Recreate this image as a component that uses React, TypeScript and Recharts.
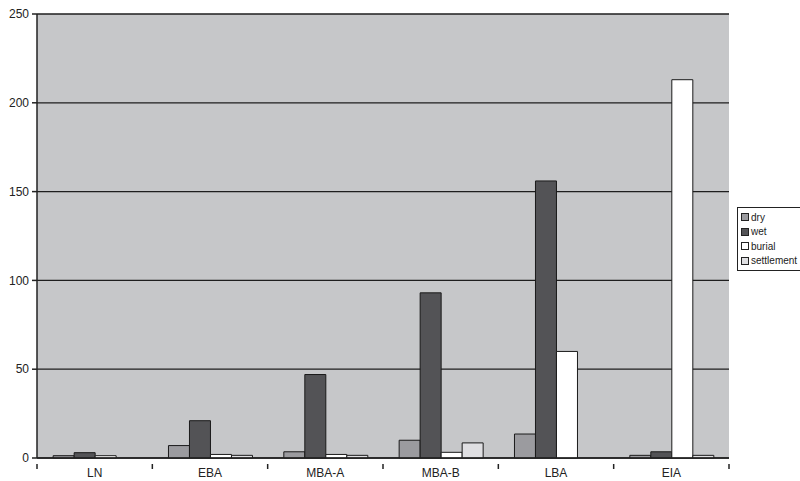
import React from 'react'
import { Bar, BarChart, CartesianGrid, XAxis, YAxis } from 'recharts'

const categories = ['LN', 'EBA', 'MBA-A', 'MBA-B', 'LBA', 'EIA']
const dry = [1.3, 7, 3.5, 10, 13.5, 1.5]
const wet = [3, 21, 47, 93, 156, 3.5]
const burial = [1.3, 2, 2, 3.2, 60, 213]
const settlement = [0, 1.5, 1.5, 8.5, 0, 1.5]
const yTicks = [0, 50, 100, 150, 200, 250]

const seriesList = [
  { key: 'dry', fill: '#9b9b9f' },
  { key: 'wet', fill: '#535356' },
  { key: 'burial', fill: '#ffffff' },
  { key: 'settlement', fill: '#dfdfe2' },
]

const data = categories.map((name, i) => ({
  name,
  dry: dry[i],
  wet: wet[i],
  burial: burial[i],
  settlement: settlement[i],
}))

const W = 800
const H = 481
const MARGIN = { top: 14, right: 71, left: 0, bottom: 0 }
const Y_W = 37
const BAND = (W - MARGIN.right - Y_W) / categories.length

const font = 'Liberation Sans, Arial, sans-serif'

// category labels plus Excel-style tick marks between categories
function XTick(props: any) {
  const { x, y, index } = props
  return (
    <g>
      {index === 0 && (
        <line x1={x - BAND / 2} x2={x - BAND / 2} y1={y - 2} y2={y + 3} stroke="#222" strokeWidth={1.5} />
      )}
      <line x1={x + BAND / 2} x2={x + BAND / 2} y1={y - 2} y2={y + 3} stroke="#222" strokeWidth={1.5} />
      <text x={x} y={y + 11} textAnchor="middle" fontSize={12} fill="#222" fontFamily={font}>
        {props.payload.value}
      </text>
    </g>
  )
}

export default function App() {
  return (
    <div style={{ position: 'absolute', left: 0, top: 0, width: W, height: H, overflow: 'hidden', background: '#fff' }}>
      <BarChart width={W} height={H} data={data} margin={MARGIN} barCategoryGap="14%" barGap={0}>
        <CartesianGrid vertical={false} stroke="#1e1e1e" strokeWidth={1.3} fill="#c6c7c9" />
        <XAxis
          dataKey="name"
          height={23}
          axisLine={{ stroke: '#222', strokeWidth: 1.5 }}
          tickLine={false}
          tick={<XTick />}
          interval={0}
        />
        <YAxis
          width={Y_W}
          domain={[0, 250]}
          ticks={yTicks}
          axisLine={{ stroke: '#222', strokeWidth: 1.5 }}
          tickLine={{ stroke: '#222', strokeWidth: 1.5 }}
          tickSize={5}
          tickMargin={3}
          tick={{ fontSize: 12, fill: '#222', fontFamily: font }}
        />
        {seriesList.map((s) => (
          <Bar key={s.key} dataKey={s.key} fill={s.fill} stroke="#1a1a1a" strokeWidth={1} isAnimationActive={false} />
        ))}
      </BarChart>
      <div
        style={{
          position: 'absolute',
          left: 737,
          top: 207,
          width: 90,
          height: 64,
          border: '1px solid #222',
          background: '#fff',
          fontFamily: font,
          fontSize: 10,
          color: '#222',
          padding: '2px 0 0 3px',
          boxSizing: 'border-box',
        }}
      >
        {seriesList.map((s) => (
          <div key={s.key} style={{ display: 'flex', alignItems: 'center', height: 14.5 }}>
            <span
              style={{
                display: 'inline-block',
                width: 6,
                height: 6,
                background: s.fill,
                border: '1px solid #222',
                marginRight: 2,
              }}
            />
            {s.key}
          </div>
        ))}
      </div>
    </div>
  )
}
